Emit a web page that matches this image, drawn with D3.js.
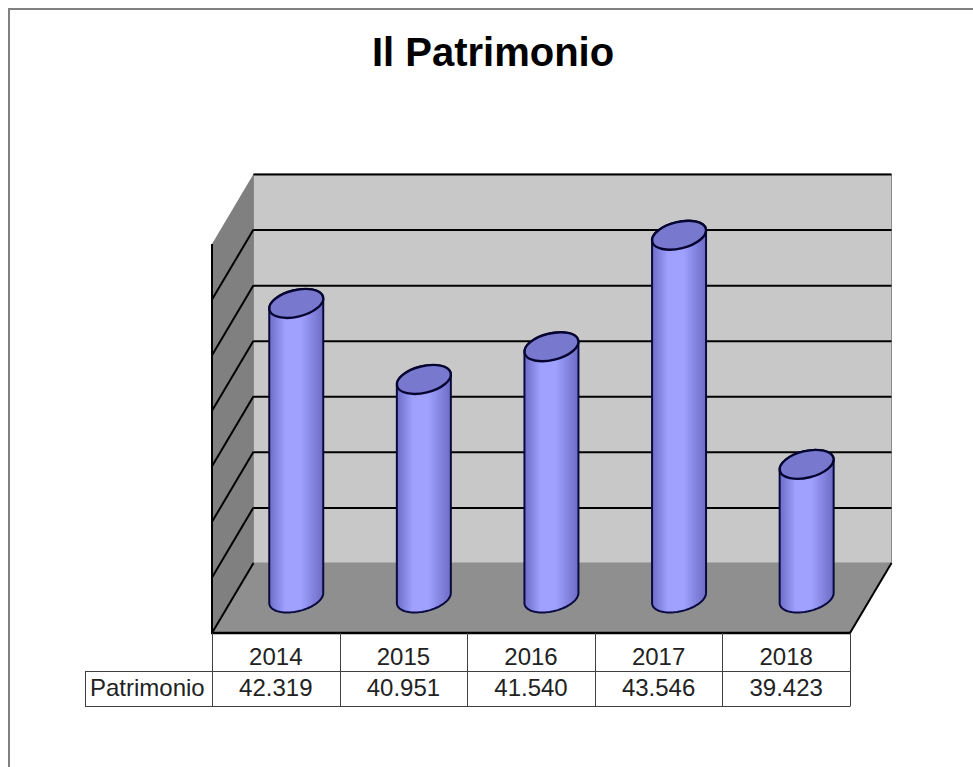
<!DOCTYPE html>
<html><head><meta charset="utf-8">
<script src="https://cdnjs.cloudflare.com/ajax/libs/d3/7.9.0/d3.min.js"></script>
<style>html,body{margin:0;padding:0;background:#fff}svg{display:block}text{font-family:"Liberation Sans",Arial,sans-serif}</style>
</head><body><div id="chart"></div>
<script>
const years = ["2014","2015","2016","2017","2018"];
const values = [42.319,40.951,41.540,43.546,39.423];
const valueLabels = ["42.319","40.951","41.540","43.546","39.423"];
const seriesName = "Patrimonio";
const titleText = "Il Patrimonio";
const axisMin = 37, axisMax = 44, gridTicks = [37,38,39,40,41,42,43,44];

const W=973,H=767;
const svg=d3.select("#chart").append("svg").attr("width",W).attr("height",H);
const defs=svg.append("defs");
const grad=defs.append("linearGradient").attr("id","cyl").attr("x1",0).attr("x2",1).attr("y1",0).attr("y2",0);
[[0,"#6c6cc8"],[0.3,"#a0a0ff"],[0.58,"#a0a0ff"],[1,"#6c6cc4"]].forEach(([o,c])=>grad.append("stop").attr("offset",o).attr("stop-color",c));

svg.append("line").attr("x1",9).attr("x2",W).attr("y1",9).attr("y2",9).attr("stroke","#808080").attr("stroke-width",2);
svg.append("line").attr("x1",9).attr("x2",9).attr("y1",8).attr("y2",H).attr("stroke","#808080").attr("stroke-width",2);
svg.append("text").attr("x",493).attr("y",66).attr("text-anchor","middle").attr("font-size",40).attr("font-weight","bold").attr("fill","#000").text(titleText);

// projection
const front={x0:212,x1:850,y0:633,y1:244};
const depth={dx:41.5,dy:-70};
const y=d3.scaleLinear().domain([axisMin,axisMax]).range([front.y0,front.y1]);
const x=d3.scaleBand().domain(years).range([front.x0,front.x1]);
const back=v=>y(v)+depth.dy;
const X0=front.x0,X1=front.x1,Bx0=X0+depth.dx,Bx1=X1+depth.dx;
const poly=p=>"M"+p.map(q=>q.join(",")).join("L")+"Z";

// walls
svg.append("path").attr("d",poly([[Bx0,back(axisMax)],[Bx1,back(axisMax)],[Bx1,back(axisMin)],[Bx0,back(axisMin)]])).attr("fill","#c8c8c8").attr("stroke","#8c8c8c");
svg.append("path").attr("d",poly([[X0,y(axisMax)],[Bx0,back(axisMax)],[Bx0,back(axisMin)],[X0,y(axisMin)]])).attr("fill","#808080");
svg.append("path").attr("d",poly([[X0,y(axisMin)],[Bx0,back(axisMin)],[Bx1,back(axisMin)],[X1,y(axisMin)]])).attr("fill","#8f8f8f");

// gridlines on back wall through a d3 axis
const gridAxis=d3.axisLeft(y).tickValues(gridTicks.slice(1)).tickSize(-(Bx1-Bx0)).tickFormat("");
const gridG=svg.append("g").attr("transform",`translate(${Bx0},${depth.dy})`).call(gridAxis);
gridG.select(".domain").remove();
gridG.selectAll("line").attr("stroke","#000").attr("stroke-width",2);
// gridlines on the left wall
svg.append("g").selectAll("line").data(gridTicks.slice(1,-1)).join("line")
 .attr("x1",X0).attr("x2",Bx0).attr("y1",d=>y(d)).attr("y2",d=>back(d)).attr("stroke","#000").attr("stroke-width",2);
svg.append("line").attr("x1",X0).attr("x2",Bx0).attr("y1",y(axisMin)).attr("y2",back(axisMin)).attr("stroke","#000").attr("stroke-width",2);
svg.append("line").attr("x1",X0).attr("x2",X0).attr("y1",y(axisMax)).attr("y2",y(axisMin)).attr("stroke","#000").attr("stroke-width",2);
// floor edges
svg.append("line").attr("x1",X1).attr("x2",Bx1).attr("y1",y(axisMin)).attr("y2",back(axisMin)).attr("stroke","#000").attr("stroke-width",2);
svg.append("line").attr("x1",X0-1).attr("x2",X1).attr("y1",y(axisMin)).attr("y2",y(axisMin)).attr("stroke","#000").attr("stroke-width",2.5);

// cylinders: outline sampled from the rotated ellipse
const ra=27.6,rb=13.3,phi=-13.7*Math.PI/180;
const ellipsePt=(c,m,th)=>[c+ra*Math.cos(th)*Math.cos(phi)-rb*Math.sin(th)*Math.sin(phi),
                           m+ra*Math.cos(th)*Math.sin(phi)+rb*Math.sin(th)*Math.cos(phi)];
const thR=Math.atan2(-rb*Math.sin(phi),ra*Math.cos(phi)); // angle of the right-most point
const samples=d3.range(0,49).map(i=>i/48*Math.PI);
const line=d3.line();
const cx=d=>x(d)+x.bandwidth()/2+depth.dx/2-0.3;
const my=v=>y(v)+depth.dy/2;
const topNudge=1;
const bars=svg.append("g").selectAll("g").data(years.map((yr,i)=>({yr,v:values[i]}))).join("g");
bars.append("path").attr("fill","url(#cyl)").attr("stroke","#0a0a40").attr("stroke-width",2).attr("stroke-linejoin","round")
 .attr("d",d=>{const c=cx(d.yr),t=my(d.v)+topNudge,bt=my(axisMin);
   const lower=samples.map(s=>ellipsePt(c,bt,thR+s));          // right -> bottom -> left
   const upper=samples.map(s=>ellipsePt(c,t,thR+Math.PI+s));   // left -> top -> right
   return line(lower.concat(upper))+"Z";});
bars.append("ellipse").attr("rx",ra).attr("ry",rb).attr("fill","#7878cf").attr("stroke","#050530").attr("stroke-width",2.4)
 .attr("transform",d=>`translate(${cx(d.yr)},${my(d.v)+topNudge}) rotate(${phi*180/Math.PI})`);

// data table
const rowTop=front.y0,rowMid=671,rowBot=706,labelLeft=85;
const tbl=svg.append("g").attr("stroke","#404040").attr("stroke-width",1);
const edges=[...years.map(d=>x(d)),X1];
tbl.selectAll("line.v").data(edges).join("line").attr("class","v").attr("x1",d=>Math.round(d)+.5).attr("x2",d=>Math.round(d)+.5).attr("y1",rowTop).attr("y2",rowBot);
[[labelLeft,X1,rowMid],[labelLeft,X1,rowBot]].forEach(([p,q,r])=>tbl.append("line").attr("x1",p).attr("x2",q+.5).attr("y1",r+.5).attr("y2",r+.5));
tbl.append("line").attr("x1",labelLeft+.5).attr("x2",labelLeft+.5).attr("y1",rowMid).attr("y2",rowBot);
const tf=svg.append("g").attr("font-size",24).attr("fill","#222");
tf.selectAll("text.y").data(years).join("text").attr("class","y").attr("text-anchor","middle").attr("x",d=>x(d)+x.bandwidth()/2).attr("y",665).text(d=>d);
tf.selectAll("text.v").data(valueLabels).join("text").attr("class","v").attr("text-anchor","middle").attr("x",(d,i)=>x(years[i])+x.bandwidth()/2).attr("y",696).text(d=>d);
tf.append("text").attr("x",90).attr("y",696).text(seriesName);
</script></body></html>
